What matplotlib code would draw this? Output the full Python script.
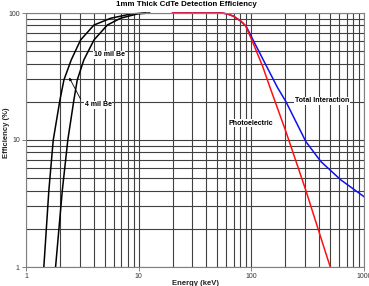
import matplotlib
matplotlib.use("Agg")
import matplotlib.pyplot as plt
import numpy as np

plt.rcParams['font.family'] = ['Liberation Sans', 'DejaVu Sans']

# 4 mil Be window (left black curve)
e_4mil = [1.44, 1.595, 1.745, 2.0, 2.17, 2.52, 3.05, 4.01, 5.64, 8.49, 11.5]
eff_4mil = [1, 4.0, 10, 20.6, 29.7, 42.7, 61.3, 80.4, 90.9, 98.2, 100]

# 10 mil Be window (right black curve)
e_10mil = [1.83, 2.10, 2.35, 2.66, 2.85, 3.26, 4.01, 5.27, 6.92, 9.8, 12.5]
eff_10mil = [1, 4.0, 10, 20.6, 29.7, 42.7, 61.3, 80.4, 91, 98.5, 100]

# photoelectric (red)
e_photo = [20, 55, 62, 70, 81, 89, 102, 126, 147, 203, 305, 444, 502]
eff_photo = [100, 100, 98, 94, 86, 79, 60, 38, 25.7, 11.6, 4.0, 1.4, 1.0]

# total interaction (blue)
e_total = [20, 55, 62, 70, 81, 90, 97, 108, 171, 203, 305, 415, 625, 1000]
eff_total = [100, 100, 98, 94, 86, 78.5, 69, 57, 25.8, 20, 9.7, 6.75, 4.84, 3.58]

fig = plt.figure(figsize=(3.69, 2.86), dpi=100)
ax = fig.add_axes([26 / 369, 1 - 267 / 286, 338 / 369, 254 / 286])

ax.plot(e_4mil, eff_4mil, color='black', lw=1.1, clip_on=False)
ax.plot(e_10mil, eff_10mil, color='black', lw=1.1, clip_on=False)
ax.plot(e_total, eff_total, color='#1010f0', lw=1.1, clip_on=False)
ax.plot(e_photo, eff_photo, color='#ff1010', lw=1.1, clip_on=False)

ax.set_xscale('log')
ax.set_yscale('log')
ax.set_xlim(1, 1000)
ax.set_ylim(1, 100)

ax.grid(True, which='both', color='#404040', lw=0.8)
ax.set_axisbelow(True)
for s in ax.spines.values():
    s.set_color('#808080')
    s.set_linewidth(0.8)

ax.set_xticks([1, 10, 100, 1000])
ax.set_xticklabels(['1', '10', '100', '1000'])
ax.set_yticks([1, 10, 100])
ax.set_yticklabels(['1', '10', '100'])
ax.tick_params(which='minor', length=0)
ax.tick_params(which='major', length=3, width=0.7, color='#808080',
               labelsize=5, labelcolor='#333333', pad=1.5)

lbl = dict(fontsize=5, fontweight='bold', ha='center', va='center',
           bbox=dict(facecolor='white', edgecolor='none', pad=0.6))
ax.text(5.47, 46.7, '10 mil Be', **lbl)
ax.text(4.37, 18.9, '4 mil Be', **lbl)
ax.text(423, 20.3, 'Total Interaction', **lbl)
ax.text(99, 13.6, 'Photoelectric', **lbl)
ax.annotate('', xy=(2.42, 31), xytext=(3.05, 21),
            arrowprops=dict(arrowstyle='-|>', color='black', lw=0.6,
                            mutation_scale=4, shrinkA=0, shrinkB=0))

fig.text(0.504, 0.983, '1mm Thick CdTe Detection Efficiency', fontsize=5.7,
         fontweight='bold', ha='center', va='center')
fig.text(195 / 369, 1 - 280 / 286, 'Energy (keV)', fontsize=5.5,
         fontweight='bold', ha='center', va='top', color='#222222')
fig.text(6 / 369, 1 - 133 / 286, 'Efficiency (%)', fontsize=5.5,
         fontweight='bold', ha='center', va='center', rotation=90,
         color='#222222')

fig.savefig('out.png', dpi=100)
